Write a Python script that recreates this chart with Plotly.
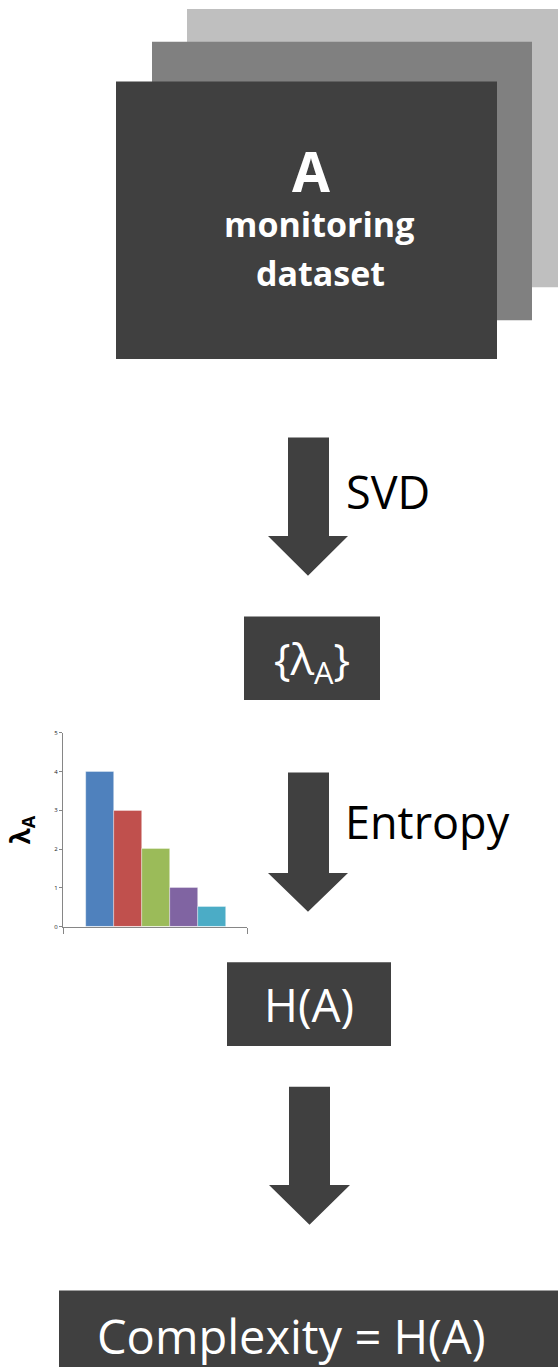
import plotly.graph_objects as go

W, H = 558, 1371

# ---- data for the small eigenvalue bar chart ----
components = [0, 1, 2, 3, 4]
eigenvalues = [4, 3, 2, 1, 0.5]
bar_colors = ["#4F81BD", "#C0504D", "#9BBB59", "#8064A2", "#4BACC6"]
ytick_vals = [0, 1, 2, 3, 4, 5]
ytick_text = ["0", "1", "2", "3", "4", "5"]

# ---- diagram texts ----
dataset_title = "A"
dataset_lines = ["monitoring", "dataset"]
step_labels = ["SVD", "Entropy"]
box_texts = ["{λ<sub>A</sub>}", "H(A)", "Complexity = H(A)"]

FONT = "Open Sans"
DARK = "#404040"

fig = go.Figure()

fig.add_trace(go.Bar(
    x=components, y=eigenvalues,
    marker=dict(color=bar_colors, line=dict(color="rgba(255,255,255,0.6)", width=0.6)),
    width=1.0, showlegend=False, xaxis="x", yaxis="y", hoverinfo="skip",
))

def px_x(v):
    return v / W

def px_y(v):
    return 1 - v / H

shapes = []

def rect(x0, y0, x1, y1, c):
    shapes.append(dict(type="rect", xref="paper", yref="paper",
                       x0=px_x(x0), y0=px_y(y1), x1=px_x(x1), y1=px_y(y0),
                       fillcolor=c, line=dict(width=0), layer="below"))

# stacked dataset sheets
for (x0, y0, x1, y1, c) in [(187, 5, 558, 285, "#BFBFBF"),
                            (152, 38, 532, 318, "#808080"),
                            (116, 78, 497, 357, DARK)]:
    rect(x0, y0, x1, y1, c)

# dark boxes
for (x0, y0, x1, y1) in [(244, 616, 380, 700), (227, 964, 391, 1048), (59, 1294, 558, 1371)]:
    rect(x0, y0, x1, y1, DARK)

# block arrows: (shaft_left, shaft_right, top, head_left, head_right, head_base, tip)
for (sl, sr, top, hl, hr, hb, tip) in [(288, 329, 436, 268, 348, 535, 575),
                                      (288, 329, 773, 268, 348, 874, 913),
                                      (289, 330, 1089, 269, 350, 1188, 1228)]:
    cx = (hl + hr) / 2
    pts = [(sl, top), (sr, top), (sr, hb), (hr, hb), (cx, tip), (hl, hb), (sl, hb)]
    path = "M " + " L ".join(f"{px_x(a):.5f},{px_y(b):.5f}" for a, b in pts) + " Z"
    shapes.append(dict(type="path", xref="paper", yref="paper", path=path,
                       fillcolor=DARK, line=dict(width=0), layer="below"))

annotations = []

def txt(x, y, text, size, color="white", bold=False, xanchor="center", angle=0):
    t = f"<b>{text}</b>" if bold else text
    annotations.append(dict(x=px_x(x), y=px_y(y), xref="paper", yref="paper", text=t,
                            showarrow=False, xanchor=xanchor, yanchor="middle",
                            textangle=angle,
                            font=dict(family=FONT, size=size, color=color)))

txt(311, 167, dataset_title, 55, bold=True)
txt(319, 221, dataset_lines[0], 34, bold=True)
txt(320, 271, dataset_lines[1], 34, bold=True)

txt(344, 490, step_labels[0], 45, color="black", xanchor="left")
txt(343, 822, step_labels[1], 45, color="black", xanchor="left")

txt(312, 660, box_texts[0], 44)
txt(309, 1006, box_texts[1], 46)
txt(291, 1340, box_texts[2], 47)

txt(21, 831, "λ<sub>A</sub>", 26, color="black", bold=True, angle=-90)

fig.update_layout(
    width=W, height=H, margin=dict(l=0, r=0, t=0, b=0),
    paper_bgcolor="white", plot_bgcolor="rgba(0,0,0,0)",
    bargap=0,
    xaxis=dict(domain=[px_x(63), px_x(247)], range=[-1.32, 5.25], anchor="y",
               showgrid=False, zeroline=False, showline=True, linecolor="#868686", linewidth=1,
               tickvals=[-1.32, 5.25], showticklabels=False, ticks="outside", ticklen=6,
               tickcolor="#868686", fixedrange=True),
    yaxis=dict(domain=[px_y(928), px_y(733)], range=[0, 5], anchor="x",
               showgrid=False, zeroline=False, showline=True, linecolor="#868686", linewidth=1,
               tickvals=ytick_vals, ticktext=ytick_text, ticks="outside", ticklen=3,
               tickcolor="#868686", tickfont=dict(family=FONT, size=6, color="#222"),
               fixedrange=True),
    shapes=shapes, annotations=annotations,
)

fig.write_html("out.html", config={"displayModeBar": False},
               post_script="document.body.style.margin='0';document.body.style.padding='0';")
